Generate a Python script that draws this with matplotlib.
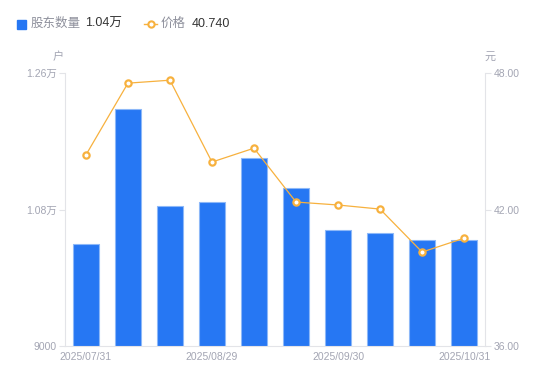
import numpy as np
import matplotlib
matplotlib.use("Agg")
import matplotlib.pyplot as plt
from matplotlib.lines import Line2D
from matplotlib.patches import Rectangle

plt.rcParams['font.family'] = ['Liberation Sans', 'Noto Sans CJK SC', 'DejaVu Sans']

# data
dates = ["2025/07/31", "2025/08/08", "2025/08/15", "2025/08/29", "2025/09/10",
         "2025/09/19", "2025/09/30", "2025/10/10", "2025/10/20", "2025/10/31"]
holders = [10345, 12125, 10846, 10899, 11479, 11084, 10530, 10490, 10398, 10398]
price = [44.40, 47.56, 47.69, 44.09, 44.70, 42.33, 42.20, 42.02, 40.13, 40.74]
shown_labels = [0, 3, 6, 9]
left_ticks = [9000, 10800, 12600]
left_tick_labels = ["9000", "1.08万", "1.26万"]
right_ticks = [36.0, 42.0, 48.0]

BLUE = "#2677F3"
ORANGE = "#F7B13E"
GRAY = "#A3A5B3"
AXIS = "#E3E4E8"

fig = plt.figure(figsize=(5.5, 3.81), dpi=100)
ax = fig.add_axes([0.118, 0.092, 0.764, 0.716])
ax2 = ax.twinx()

x = np.arange(len(dates))
ax.bar(x, holders, width=0.6, color=BLUE, edgecolor="#8DB8F8", linewidth=0.8, zorder=2)
ax.set_xlim(-0.5, len(dates) - 0.5)
ax.set_ylim(9000, 12600)
ax.set_yticks(left_ticks)
ax.set_yticklabels(left_tick_labels)
ax.set_xticks([x[i] for i in shown_labels])
ax.set_xticklabels([dates[i] for i in shown_labels])

ax2.plot(x, price, color=ORANGE, linewidth=0.9, marker="o", markersize=4.5,
         markerfacecolor="white", markeredgecolor=ORANGE, markeredgewidth=1.6, zorder=3)
ax2.set_ylim(36, 48)
ax2.set_yticks(right_ticks)
ax2.set_yticklabels([f"{v:.2f}" for v in right_ticks])

for a in (ax, ax2):
    for s in a.spines.values():
        s.set_visible(False)
    a.tick_params(colors=GRAY, labelsize=7.5, length=4, width=0.8)
    a.tick_params(axis="y", color=AXIS, pad=2)
ax.tick_params(axis="x", length=0, pad=4)
ax.spines["left"].set_visible(True)
ax.spines["left"].set_color(AXIS)
ax.spines["bottom"].set_visible(True)
ax.spines["bottom"].set_color(AXIS)
ax2.spines["right"].set_visible(True)
ax2.spines["right"].set_color(AXIS)
ax2.tick_params(axis="x", length=0)

# unit labels
fig.text(58 / 550, 1 - 57 / 381, "户", color=GRAY, fontsize=8, ha="center", va="center")
fig.text(490 / 550, 1 - 57 / 381, "元", color=GRAY, fontsize=8, ha="center", va="center")

# legend row
ly = 1 - 24 / 381
fig.patches.append(Rectangle((17 / 550, ly - 4.5 / 381), 9 / 550, 9 / 381,
                             transform=fig.transFigure, color=BLUE, figure=fig))
fig.text(31 / 550, ly, "股东数量", color="#8E909C", fontsize=9, va="center")
fig.text(85 / 550, ly, "1.04万", color="#333333", fontsize=9, va="center")
fig.lines.append(Line2D([144 / 550, 157 / 550], [ly, ly], transform=fig.transFigure,
                        color=ORANGE, linewidth=1, figure=fig))
fig.lines.append(Line2D([150.5 / 550], [ly], transform=fig.transFigure, color=ORANGE,
                        marker="o", markersize=4.5, markerfacecolor="white",
                        markeredgewidth=1.5, figure=fig))
fig.text(161 / 550, ly, "价格", color="#8E909C", fontsize=9, va="center")
fig.text(192 / 550, ly, "40.740", color="#333333", fontsize=9, va="center")

fig.savefig("out.png", dpi=100)
